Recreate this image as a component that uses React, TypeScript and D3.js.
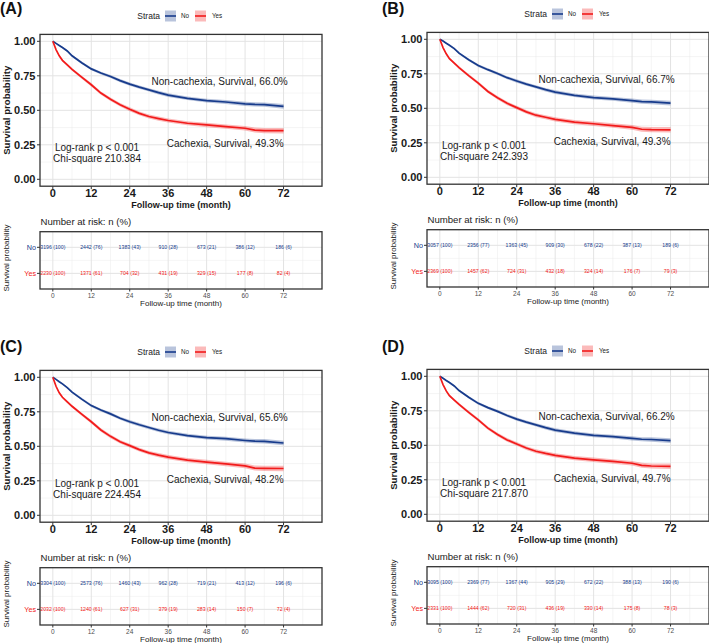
import * as d3 from 'd3'

const months = [0, 1, 2, 3, 4.5, 6, 9, 12, 15, 18, 21, 24, 27, 30, 33, 36, 42, 48, 54, 60, 63, 66, 72]

const blueA = [1, 0.985, 0.97, 0.955, 0.93, 0.895, 0.845, 0.8, 0.77, 0.745, 0.715, 0.69, 0.668, 0.648, 0.628, 0.61, 0.587, 0.57, 0.56, 0.547, 0.543, 0.541, 0.528]
const redA = [1, 0.94, 0.895, 0.862, 0.83, 0.797, 0.74, 0.685, 0.625, 0.58, 0.54, 0.508, 0.478, 0.455, 0.44, 0.426, 0.406, 0.394, 0.382, 0.37, 0.357, 0.353, 0.352]
const blueB = [1, 0.987, 0.972, 0.957, 0.933, 0.9, 0.852, 0.81, 0.78, 0.752, 0.722, 0.698, 0.675, 0.655, 0.635, 0.617, 0.594, 0.578, 0.568, 0.556, 0.548, 0.546, 0.538]
const redB = [1, 0.94, 0.895, 0.86, 0.828, 0.795, 0.737, 0.682, 0.622, 0.576, 0.536, 0.505, 0.474, 0.45, 0.435, 0.42, 0.4, 0.388, 0.375, 0.362, 0.348, 0.345, 0.344]
const blueC = [1, 0.985, 0.968, 0.952, 0.925, 0.893, 0.842, 0.795, 0.763, 0.735, 0.703, 0.678, 0.656, 0.636, 0.616, 0.6, 0.578, 0.563, 0.555, 0.542, 0.537, 0.536, 0.524]
const redC = [1, 0.935, 0.888, 0.855, 0.822, 0.79, 0.733, 0.678, 0.618, 0.572, 0.533, 0.505, 0.476, 0.452, 0.436, 0.422, 0.4, 0.386, 0.372, 0.358, 0.342, 0.34, 0.339]
const blueD = [1, 0.986, 0.97, 0.955, 0.93, 0.897, 0.848, 0.804, 0.773, 0.746, 0.716, 0.69, 0.668, 0.648, 0.628, 0.61, 0.588, 0.572, 0.563, 0.55, 0.544, 0.542, 0.534]
const redD = [1, 0.94, 0.894, 0.86, 0.828, 0.796, 0.739, 0.684, 0.624, 0.578, 0.539, 0.51, 0.48, 0.457, 0.441, 0.427, 0.407, 0.395, 0.383, 0.37, 0.355, 0.35, 0.348]

// half width of the confidence band at each month
const ciBlue = [0, 0.003, 0.005, 0.006, 0.007, 0.008, 0.009, 0.01, 0.01, 0.011, 0.011, 0.012, 0.012, 0.012, 0.013, 0.013, 0.013, 0.014, 0.014, 0.015, 0.015, 0.016, 0.017]
const ciRed = [0, 0.005, 0.007, 0.008, 0.009, 0.01, 0.011, 0.012, 0.012, 0.013, 0.013, 0.014, 0.014, 0.014, 0.015, 0.015, 0.015, 0.016, 0.016, 0.017, 0.018, 0.019, 0.02]

const riskTimes = [0, 12, 24, 36, 48, 60, 72]
const riskNoA = [3196, 2442, 1383, 910, 673, 386, 186]
const pctNoA = [100, 76, 43, 28, 21, 12, 6]
const riskYesA = [2230, 1371, 704, 431, 329, 177, 82]
const pctYesA = [100, 61, 32, 19, 15, 8, 4]
const riskNoB = [3057, 2356, 1363, 909, 678, 387, 189]
const pctNoB = [100, 77, 45, 30, 22, 13, 6]
const riskYesB = [2369, 1457, 724, 432, 324, 176, 79]
const pctYesB = [100, 62, 31, 18, 14, 7, 3]
const riskNoC = [3304, 2573, 1460, 962, 719, 413, 196]
const pctNoC = [100, 76, 43, 28, 21, 12, 6]
const riskYesC = [2032, 1240, 627, 379, 283, 150, 72]
const pctYesC = [100, 61, 31, 19, 14, 7, 4]
const riskNoD = [3095, 2369, 1367, 905, 672, 388, 190]
const pctNoD = [100, 77, 44, 29, 22, 13, 6]
const riskYesD = [2331, 1444, 720, 436, 330, 175, 78]
const pctYesD = [100, 62, 31, 19, 14, 8, 3]

const tags = ['(A)', '(B)', '(C)', '(D)']
const nonCachexiaPct = ['66.0%', '66.7%', '65.6%', '66.2%']
const cachexiaPct = ['49.3%', '49.3%', '48.2%', '49.7%']
const chiSquare = ['210.384', '242.393', '224.454', '217.870']

const BLUE = '#173B8C'
const RED = '#F21B1B'
const FONT = '"Liberation Sans", Arial, sans-serif'

const panelOrigins = [[0, 0], [387, -2], [0, 336], [387, 335]]
const tagPos = [[0, 13.5], [382, 13.5], [0, 352], [382, 352]]

function KMPanel({ i }: { i: number }) {
  const blue = [blueA, blueB, blueC, blueD][i]
  const red = [redA, redB, redC, redD][i]
  const riskNo = [riskNoA, riskNoB, riskNoC, riskNoD][i]
  const pctNo = [pctNoA, pctNoB, pctNoC, pctNoD][i]
  const riskYes = [riskYesA, riskYesB, riskYesC, riskYesD][i]
  const pctYes = [pctYesA, pctYesB, pctYesC, pctYesD][i]
  const [ox, oy] = panelOrigins[i]

  const left = 40, right = 322
  const x = d3.scaleLinear().domain([-4, 84]).range([left, right])
  const y = d3.scaleLinear().domain([-0.05, 1.05]).range([186.2, 34.4])
  const yt = d3.scaleLinear().domain([0.4, 2.6]).range([231.7, 289])

  const line = d3.line<number>().x((_, k) => x(months[k])).y(d => y(d))
  const band = (vals: number[], ci: number[]) =>
    d3.area<number>().x((_, k) => x(months[k]))
      .y0((d, k) => y(d - ci[k])).y1((d, k) => y(d + ci[k]))(vals) || ''

  const majorX = riskTimes
  const minorX = [6, 18, 30, 42, 54, 66, 78]
  const majorY = [0, 0.25, 0.5, 0.75, 1]
  const minorY = [0.125, 0.375, 0.625, 0.875]

  const grid = (yScale: (v: number) => number, yTop: number, yBot: number, ys: number[], ysMinor: number[]) => (
    <g>
      {ysMinor.map(v => <line key={'ym' + v} x1={left} x2={right} y1={yScale(v)} y2={yScale(v)} stroke="#EBEBEB" strokeWidth={0.5} />)}
      {minorX.map(v => <line key={'xm' + v} x1={x(v)} x2={x(v)} y1={yTop} y2={yBot} stroke="#EBEBEB" strokeWidth={0.5} />)}
      {ys.map(v => <line key={'y' + v} x1={left} x2={right} y1={yScale(v)} y2={yScale(v)} stroke="#E3E3E3" strokeWidth={1} />)}
      {majorX.map(v => <line key={'x' + v} x1={x(v)} x2={x(v)} y1={yTop} y2={yBot} stroke="#E3E3E3" strokeWidth={1} />)}
    </g>
  )

  return (
    <g transform={`translate(${ox},${oy})`} fontFamily={FONT}>
      {/* legend */}
      <text x={137.3} y={18.6} fontSize={8.5} fill="#222">Strata</text>
      <rect x={165} y={10.5} width={11} height={11} fill={BLUE} fillOpacity={0.3} />
      <line x1={165} x2={176} y1={16} y2={16} stroke={BLUE} strokeWidth={1.6} />
      <text x={181} y={18} fontSize={6.3} fill="#222">No</text>
      <rect x={195} y={10.5} width={11} height={11} fill={RED} fillOpacity={0.3} />
      <line x1={195} x2={206} y1={16} y2={16} stroke={RED} strokeWidth={1.6} />
      <text x={212} y={18} fontSize={6.3} fill="#222">Yes</text>

      {/* survival plot */}
      <rect x={left} y={34.4} width={right - left} height={186.2 - 34.4} fill="white" />
      {grid(y, 34.4, 186.2, majorY, minorY)}
      <path d={band(blue, ciBlue)} fill={BLUE} fillOpacity={0.3} />
      <path d={band(red, ciRed)} fill={RED} fillOpacity={0.3} />
      <path d={line(blue) || ''} fill="none" stroke={BLUE} strokeWidth={1.7} />
      <path d={line(red) || ''} fill="none" stroke={RED} strokeWidth={1.7} />
      <rect x={left} y={34.4} width={right - left} height={186.2 - 34.4} fill="none" stroke="#333" strokeWidth={1.3} />

      <text x={x(73.3)} y={y(0.685)} fontSize={10} textAnchor="end" fill="#1a1a1a">Non-cachexia, Survival, {nonCachexiaPct[i]}</text>
      <text x={x(72)} y={y(0.233)} fontSize={10} textAnchor="end" fill="#1a1a1a">Cachexia, Survival, {cachexiaPct[i]}</text>
      <text x={x(13.8)} y={y(0.205)} fontSize={10} textAnchor="middle" fill="#1a1a1a">Log-rank p &lt; 0.001</text>
      <text x={x(13.8)} y={y(0.125)} fontSize={10} textAnchor="middle" fill="#1a1a1a">Chi-square {chiSquare[i]}</text>

      {majorY.map(v => (
        <g key={'yt' + v}>
          <line x1={left - 3} x2={left} y1={y(v)} y2={y(v)} stroke="#333" strokeWidth={1} />
          <text x={left - 4.5} y={y(v)} dy="0.35em" fontSize={11} fontWeight="bold" textAnchor="end" fill="#1a1a1a">{v.toFixed(2)}</text>
        </g>
      ))}
      {majorX.map(v => (
        <g key={'xt' + v}>
          <line x1={x(v)} x2={x(v)} y1={186.2} y2={189.2} stroke="#333" strokeWidth={1} />
          <text x={x(v)} y={197} fontSize={11} fontWeight="bold" textAnchor="middle" fill="#1a1a1a">{v}</text>
        </g>
      ))}
      <text x={(left + right) / 2} y={208} fontSize={9} fontWeight="bold" textAnchor="middle" fill="#1a1a1a">Follow-up time (month)</text>
      <text transform={`translate(9.5,${(34.4 + 186.2) / 2}) rotate(-90)`} fontSize={9.6} fontWeight="bold" textAnchor="middle" fill="#1a1a1a">Survival probability</text>

      {/* risk table */}
      <text x={40.5} y={225} fontSize={9.6} fill="#1a1a1a">Number at risk: n (%)</text>
      <rect x={left} y={231.7} width={right - left} height={289 - 231.7} fill="white" />
      {grid(yt, 231.7, 289, [1, 2], [1.5])}
      <rect x={left} y={231.7} width={right - left} height={289 - 231.7} fill="none" stroke="#333" strokeWidth={1.3} />
      {riskTimes.map((t, k) => (
        <g key={'r' + t} fontSize={5.2} textAnchor="middle">
          <text x={x(t)} y={yt(1)} dy="0.35em" fill={BLUE}>{riskNo[k]} ({pctNo[k]})</text>
          <text x={x(t)} y={yt(2)} dy="0.35em" fill={RED}>{riskYes[k]} ({pctYes[k]})</text>
        </g>
      ))}
      <line x1={left - 3} x2={left} y1={yt(1)} y2={yt(1)} stroke="#333" />
      <line x1={left - 3} x2={left} y1={yt(2)} y2={yt(2)} stroke="#333" />
      <text x={36} y={yt(1)} dy="0.35em" fontSize={7.2} textAnchor="end" fill={BLUE}>No</text>
      <text x={36} y={yt(2)} dy="0.35em" fontSize={7.2} textAnchor="end" fill={RED}>Yes</text>
      {riskTimes.map(t => (
        <g key={'rt' + t}>
          <line x1={x(t)} x2={x(t)} y1={289} y2={291.5} stroke="#333" />
          <text x={x(t)} y={297.5} fontSize={6.5} textAnchor="middle" fill="#4D4D4D">{t}</text>
        </g>
      ))}
      <text x={(left + right) / 2} y={306} fontSize={8} textAnchor="middle" fill="#1a1a1a">Follow-up time (month)</text>
      <text transform={`translate(8.8,258) rotate(-90)`} fontSize={8} textAnchor="middle" fill="#1a1a1a">Survival probability</text>
    </g>
  )
}

export default function App() {
  return (
    <div style={{ position: 'absolute', left: 0, top: 0 }}>
      <svg width={709} height={643} style={{ display: 'block', background: 'white' }}>
        <rect width={709} height={643} fill="white" />
        {[0, 1, 2, 3].map(i => <KMPanel key={i} i={i} />)}
        {tags.map((t, i) => (
          <text key={t} x={tagPos[i][0]} y={tagPos[i][1]} fontFamily={FONT} fontSize={16} fontWeight="bold" fill="#111">{t}</text>
        ))}
      </svg>
    </div>
  )
}
